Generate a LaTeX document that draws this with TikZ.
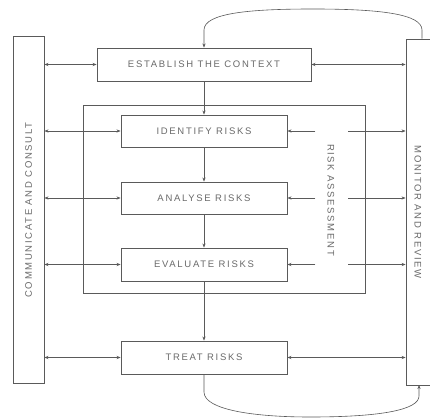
\documentclass[tikz,border=0pt]{standalone}
\usepackage{fontspec}
\newfontfamily\lbl[LetterSpace=18]{Liberation Sans}
\usetikzlibrary{arrows.meta}
\definecolor{linegray}{HTML}{5A5A5A}
\definecolor{txtgray}{HTML}{6A6A6A}
\begin{document}
\begin{tikzpicture}[x=1pt,y=-1pt,
  lblfont/.style={font=\lbl\fontsize{9.5}{10}\selectfont, text=txtgray},
  stepbox/.style={draw=linegray, line width=0.9pt, minimum width=166pt, minimum height=32pt, inner sep=0pt, lblfont},
  frame/.style={draw=linegray, line width=0.9pt, inner sep=0pt},
  conn/.style={draw=linegray, line width=0.6pt},
  tip/.style={-{Stealth[length=4pt,width=3.2pt]}},
  dtip/.style={{Stealth[length=4pt,width=3.2pt]}-{Stealth[length=4pt,width=3.2pt]}}
]
\fill[white] (0,0) rectangle (430,419);
\useasboundingbox (0,0) rectangle (430,419);

% frames
\node[frame, minimum width=31pt, minimum height=347pt] (comm) at (28.5,209.5) {};
\node[frame, minimum width=26pt, minimum height=346pt] (mon) at (419,212) {};
\node[frame, minimum width=282pt, minimum height=188pt] (ra) at (224,199) {};

% labels
\node[lblfont, rotate=90] (commlbl) at (28.5,210) {COMMUNICATE AND CONSULT};
\node[lblfont, rotate=-90] (monlbl) at (418,212) {MONITOR AND REVIEW};
\node[lblfont, rotate=-90] (ralbl) at (331,200) {RISK ASSESSMENT};

% process boxes
\node[stepbox, minimum width=214pt, minimum height=33pt] (est) at (204,64.5) {ESTABLISH THE CONTEXT};
\node[stepbox] (idf) at (204,131) {IDENTIFY RISKS};
\node[stepbox] (ana) at (204,198) {ANALYSE RISKS};
\node[stepbox, minimum height=33pt] (eva) at (204,264.5) {EVALUATE RISKS};
\node[stepbox, minimum height=33pt] (trt) at (204,357.5) {TREAT RISKS};

% vertical flow
\draw[conn,tip] (est.south) -- (idf.north);
\draw[conn,tip] (idf.south) -- (ana.north);
\draw[conn,tip] (ana.south) -- (eva.north);
\draw[conn,tip] (eva.south) -- (trt.north);

% left communicate arrows
\foreach \b in {est,idf,ana,eva,trt}{
  \draw[conn,dtip] (comm.east |- \b.west) -- (\b.west);
}

% right monitor arrows
\draw[conn,dtip] (est.east) -- (mon.west |- est.east);
\draw[conn,dtip] (trt.east) -- (mon.west |- trt.east);
\foreach \b in {idf,ana,eva}{
  \coordinate (\b a) at ([xshift=28pt]\b.east);
  \coordinate (\b b) at ([xshift=61pt]\b.east);
  \draw[conn,tip] (\b a) -- (\b.east);
  \draw[conn,tip] (\b b) -- (mon.west |- \b.east);
}

% feedback loops
\coordinate (mt) at ([xshift=3pt]mon.north);
\draw[conn,tip] (mt) -- (422,30) .. controls (422,14) and (380,9) .. (313,9)
  .. controls (250,9) and (204,13) .. (204,30) -- (est.north);
\coordinate (mb) at (419,385);
\draw[conn,tip] (trt.south) -- (204,392) .. controls (204,410) and (255,417) .. (310,417)
  .. controls (380,417) and (419,410) .. (419,396) -- (mb);
\end{tikzpicture}
\end{document}
